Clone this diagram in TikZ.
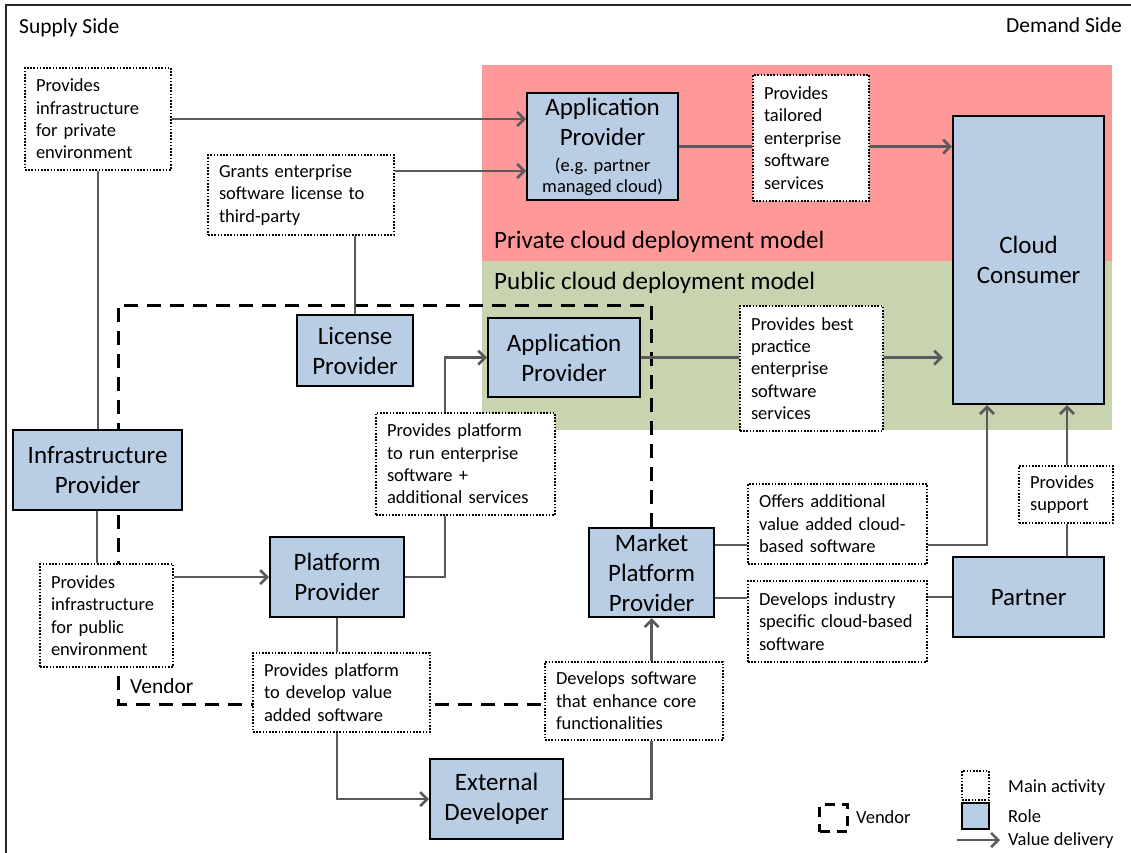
\documentclass[tikz,border=0pt]{standalone}
\usepackage{fontspec}
\setmainfont{Carlito}
\usetikzlibrary{arrows.meta}

\definecolor{privbg}{RGB}{255,153,153}
\definecolor{pubbg}{RGB}{200,211,176}
\definecolor{rolefill}{RGB}{185,205,229}
\definecolor{linkgray}{RGB}{90,90,90}

\pgfdeclarelayer{regions}
\pgfdeclarelayer{vendorlayer}
\pgfsetlayers{regions,vendorlayer,main}

\tikzset{
  role/.style={draw=black, line width=2.2pt, fill=rolefill, align=center,
    inner sep=0pt, anchor=north west, font=\fontsize{25}{30}\selectfont},
  act/.style={draw=black, line width=2pt, dash pattern=on 1.6pt off 1.6pt,
    fill=white, align=left, inner xsep=11pt, inner ysep=0pt,
    anchor=north west, font=\fontsize{18.5}{22.4}\selectfont},
  link/.style={draw=linkgray, line width=2.6pt},
  deliver/.style={link, -{Straight Barb[length=7pt,width=14pt]}},
  vendorline/.style={draw=black, line width=3pt, dash pattern=on 14pt off 9pt},
  lbl/.style={inner sep=0pt, font=\fontsize{18.5}{22}\selectfont},
  biglbl/.style={inner sep=0pt, font=\fontsize{25}{30}\selectfont},
  sidelbl/.style={inner sep=0pt, font=\fontsize{21.5}{25}\selectfont},
}

% activity box: name, left, top, width, height, text
\newcommand\actbox[6]{%
  \pgfmathsetmacro\actinnerw{#4-22}%
  \node[act, minimum width=#4pt, minimum height=#5pt, text width=\actinnerw pt]
    (#1) at (#2,#3) {#6};}
\newcommand\subrole[1]{{\fontsize{18.5}{21}\selectfont #1}}

\begin{document}
\begin{tikzpicture}[x=1pt,y=-1pt]
\useasboundingbox (0,0) rectangle (1131,852);

% page, deployment model areas
\begin{pgfonlayer}{regions}
  \fill[white] (0,0) rectangle (1131,852);
  \fill[privbg] (482,65) rectangle (1112,261);
  \fill[pubbg] (482,261) rectangle (1112,430);
\end{pgfonlayer}

% outer frame
\draw[line width=2pt, black!85] (6,5) rectangle (1145,870);

\node[sidelbl, anchor=base west] (supply) at (19,33) {Supply Side};
\node[sidelbl, anchor=base east] (demand) at (1122,32) {Demand Side};
\node[biglbl, anchor=base west] (privlbl) at (494,248) {Private cloud deployment model};
\node[biglbl, anchor=base west] (publbl) at (494,289) {Public cloud deployment model};

% roles
\node[role, minimum width=151pt, minimum height=107pt] (appPriv) at (526,92)
  {Application\\Provider\\[-4pt]\subrole{(e.g. partner}\\[-9pt]\subrole{managed cloud)}};
\node[role, minimum width=151pt, minimum height=288pt] (consumer) at (952,115) {Cloud\\Consumer};
\node[role, minimum width=116pt, minimum height=71pt] (license) at (296,314) {License\\Provider};
\node[role, minimum width=152pt, minimum height=79pt] (appPub) at (487,317) {Application\\Provider};
\node[role, minimum width=169pt, minimum height=80pt] (infra) at (12,429) {Infrastructure\\Provider};
\node[role, minimum width=134pt, minimum height=80pt] (platform) at (269,536) {Platform\\Provider};
\node[role, minimum width=125pt, minimum height=89pt] (market) at (588,527) {Market\\Platform\\Provider};
\node[role, minimum width=133pt, minimum height=80pt] (extdev) at (429,758) {External\\Developer};
\node[role, minimum width=151pt, minimum height=80pt] (partner) at (952,556) {Partner};

% main activities
\actbox{actPrivInfra}{24}{67}{146}{102}{Provides\\infrastructure\\for private\\environment}
\actbox{actLicense}{207}{154}{186}{80}{Grants enterprise\\software license to\\third-party}
\actbox{actTailored}{752}{74}{116}{126}{Provides\\tailored\\enterprise\\software\\services}
\actbox{actBest}{739}{305}{143}{125}{Provides best\\practice\\enterprise\\software\\services}
\actbox{actRun}{375}{412}{179}{102}{Provides platform\\to run enterprise\\software +\\additional services}
\actbox{actPubInfra}{39}{563}{133}{103}{Provides\\infrastructure\\for public\\environment}
\actbox{actDevPlat}{252}{652}{177}{79}{Provides platform\\to develop value\\added software}
\actbox{actEnhance}{544}{661}{178}{78}{Develops software\\that enhance core\\functionalities}
\actbox{actOffers}{747}{483}{179}{80}{Offers additional\\value added cloud-\\based software}
\actbox{actIndustry}{747}{580}{179}{81}{Develops industry\\specific cloud-based\\software}
\actbox{actSupport}{1018}{465}{94}{57}{Provides\\support}

% vendor boundary
\begin{pgfonlayer}{vendorlayer}
  \draw[vendorline] (market.north) -- (market.north |- 0,305) -- (118,305)
    -- (118,704) -- (actEnhance.west |- 0,704);
\end{pgfonlayer}
\node[sidelbl, anchor=base west] (vendorTag) at (130,693) {Vendor};

% value flows
\draw[deliver] (actPrivInfra.east) -- (appPriv.west |- actPrivInfra.east);
\draw[deliver] (actLicense.east |- 0,171) -- (appPriv.west |- 0,171);
\draw[link] (actPrivInfra.south) -- (actPrivInfra.south |- infra.north);
\draw[link] (license.north) -- (license.north |- actLicense.south);
\draw[link] (appPriv.east) -- (appPriv.east -| actTailored.west);
\draw[deliver] (actTailored.east |- appPriv.east) -- (consumer.west |- appPriv.east);
\draw[link] (appPub.east) -- (appPub.east -| actBest.west);
\draw[deliver, shorten >=9pt] (actBest.east |- appPub.east) -- (consumer.west |- appPub.east);
\draw[link] (infra.south -| 97,0) -- (actPubInfra.north -| 97,0);
\draw[deliver] (actPubInfra.east |- platform.west) -- (platform.west);
\draw[link] (platform.east) -| (actRun.south -| 445,0);
\draw[deliver] (actRun.north -| 445,0) |- (appPub.west);
\draw[link] (platform.south) -- (platform.south |- actDevPlat.north);
\draw[deliver] (actDevPlat.south -| platform.south) |- (extdev.west);
\draw[link] (extdev.east) -| (actEnhance.south -| market.south);
\draw[deliver] (actEnhance.north -| market.south) -- (market.south);
\draw[link] (market.east |- 0,545) -- (actOffers.west |- 0,545);
\draw[link] (market.east |- 0,598) -- (actIndustry.west |- 0,598);
\draw[deliver] (actOffers.east |- 0,545) -| (consumer.south -| 987,0);
\draw[link] (partner.west) -- (partner.west -| actIndustry.east);
\draw[link] (partner.north -| 1067,0) -- (actSupport.south -| 1067,0);
\draw[deliver] (actSupport.north -| 1067,0) -- (consumer.south -| 1067,0);

% legend
\node[draw=black, line width=3pt, dash pattern=on 10pt off 7pt, minimum width=28pt,
  minimum height=27pt, inner sep=0pt, anchor=north west] (legVendor) at (818,803) {};
\node[lbl, anchor=base west] (legVendorTxt) at (856,823) {Vendor};
\node[act, minimum width=27pt, minimum height=29pt, inner xsep=0pt] (legAct) at (961,770) {};
\node[role, minimum width=27pt, minimum height=26pt] (legRole) at (961,802) {};
\coordinate (legArrowA) at (957,840);
\coordinate (legArrowB) at (1000,840);
\draw[deliver] (legArrowA) -- (legArrowB);
\node[lbl, anchor=base west] (legActTxt) at (1008,792) {Main activity};
\node[lbl, anchor=base west] (legRoleTxt) at (1008,822) {Role};
\node[lbl, anchor=base west] (legArrowTxt) at (1008,845) {Value delivery};
\end{tikzpicture}
\end{document}
